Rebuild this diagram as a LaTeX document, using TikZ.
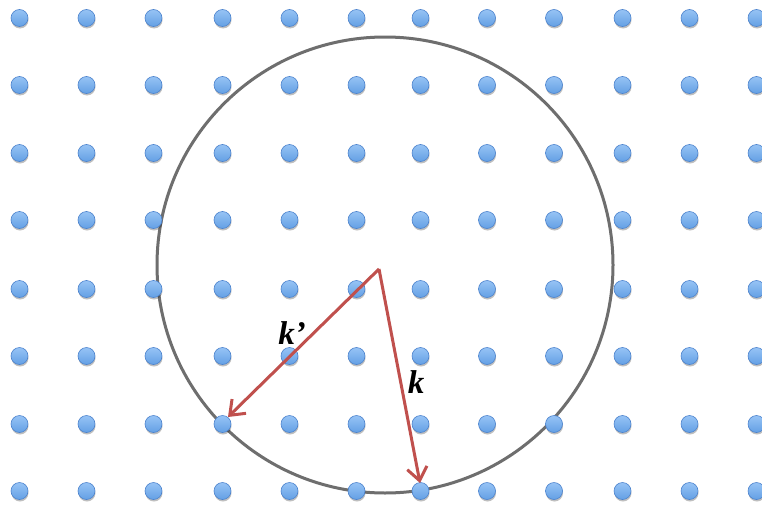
\documentclass[tikz,border=0pt]{standalone}
\usepackage{fontspec}
\setmainfont{Liberation Serif}
\usetikzlibrary{arrows.meta,shadows}
\definecolor{dotblue}{RGB}{100,160,228}
\definecolor{dotlight}{RGB}{150,195,245}
\definecolor{dotdark}{RGB}{75,130,205}
\definecolor{ringgray}{RGB}{110,110,110}
\definecolor{arrowred}{RGB}{192,80,77}
\tikzset{
  latticedot/.style={circle,minimum size=17pt,inner sep=0pt,top color=dotlight,bottom color=dotblue,draw=dotdark,line width=0.6pt,
    drop shadow={shadow xshift=0.5pt,shadow yshift=-2pt,opacity=0.25,fill=black}},
  ring/.style={draw=ringgray,line width=3pt},
  wavevec/.style={draw=arrowred,line width=3pt,-{Straight Barb[length=13pt,width=20pt,line width=3pt]}},
  veclabel/.style={font=\fontsize{33}{35}\selectfont\bfseries\itshape,inner sep=0pt}
}
\begin{document}
\begin{tikzpicture}[x=1pt,y=-1pt]
\useasboundingbox (0,0) rectangle (762,506);
\fill[white] (0,0) rectangle (762,506);
\node[circle,minimum size=456pt,inner sep=0pt,ring] (ring) at (385,265) {};
\foreach \x [count=\i] in {19.5,86.5,153.5,222.5,289.5,356.5,420.5,487,554,622.5,689.5,756.5}{
  \foreach \y [count=\j] in {18,85,153,220,289,356,424,491}{
    \node[latticedot] (d\i-\j) at (\x,\y) {};
  }
}
\coordinate (o) at (379,269);
\coordinate (kp) at (228,417);
\coordinate (kk) at (420,483);
\draw[wavevec] (o) -- (kp);
\draw[wavevec] (o) -- (kk);
\node[veclabel] (lkp) at (292,333) {k’};
\node[veclabel] (lk) at (416,382) {k};
\end{tikzpicture}
\end{document}
